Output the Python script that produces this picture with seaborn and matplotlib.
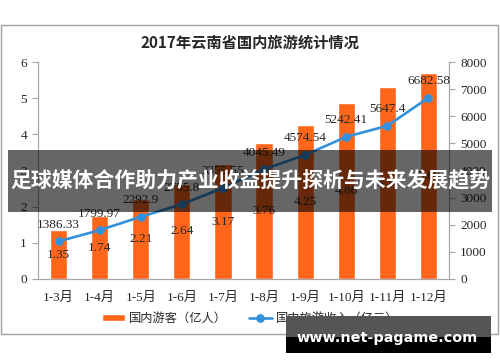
import numpy as np
import pandas as pd
import matplotlib
matplotlib.use('Agg')
import matplotlib.pyplot as plt
import seaborn as sns
from matplotlib.patches import Rectangle

months = ['1-3月', '1-4月', '1-5月', '1-6月', '1-7月', '1-8月', '1-9月', '1-10月', '1-11月', '1-12月']
tourists = [1.35, 1.74, 2.21, 2.64, 3.17, 3.76, 4.25, 4.86, 5.30, 5.69]
income = [1386.33, 1799.97, 2292.9, 2755.8, 3355.55, 4045.49, 4574.54, 5242.41, 5647.4, 6682.58]
income_labels = ['1386.33', '1799.97', '2292.9', '2755.8', '3355.55', '4045.49', '4574.54', '5242.41', '5647.4', '6682.58']
left_ticks = [0, 1, 2, 3, 4, 5, 6]
right_ticks = [0, 1000, 2000, 3000, 4000, 5000, 6000, 7000, 8000]

title = '2017年云南省国内旅游统计情况'
banner = '足球媒体合作助力产业收益提升探析与未来发展趋势'
site = 'www.net-pagame.com'

sns.set_style('white')
plt.rcParams['font.family'] = ['Liberation Serif', 'Noto Sans CJK SC', 'DejaVu Sans']

orange = '#FF661A'
blue = '#3391DC'
grey = '#A6A6A6'

df = pd.DataFrame({'month': months, 'tourists': tourists, 'income': income})
df['pos'] = np.arange(len(months))

fig = plt.figure(figsize=(5, 3.62), dpi=100)
ax = fig.add_axes([0.076, 0.2293, 0.822, 0.5994])

sns.barplot(data=df, x='month', y='tourists', color=orange, width=0.42,
            saturation=1, ax=ax, label='国内游客（亿人）')
if ax.get_legend() is not None:
    ax.get_legend().remove()
ax.set_xlim(-0.5, len(months) - 0.5)
ax.set_ylim(0, 6)
ax.set_yticks(left_ticks)
ax.set_xlabel('')
ax.set_ylabel('')

ax2 = ax.twinx()
sns.lineplot(data=df, x='pos', y='income', color=blue, linewidth=1.9, marker='o',
             markersize=5.5, markeredgecolor=blue, ax=ax2, label='国内旅游收入（亿元）',
             legend=False)
if ax2.get_legend() is not None:
    ax2.get_legend().remove()
ax2.set_ylim(0, 8000)
ax2.set_yticks(right_ticks)
ax2.set_ylabel('')
ax2.set_xlim(-0.5, len(months) - 0.5)

# category ticks: labels centred, marks at boundaries
ax.set_xticks(df['pos'])
ax.set_xticklabels(months)
ax.set_xticks(np.arange(-0.5, len(months)), minor=True)
ax.tick_params(axis='x', which='major', length=0, pad=9, labelsize=9.5)
ax.tick_params(axis='x', which='minor', length=4, color=grey, direction='out')
ax.tick_params(axis='y', length=4, color=grey, direction='out', left=True, pad=4, labelsize=9.5)
ax2.tick_params(axis='y', length=4, color=grey, direction='out', right=True, pad=4, labelsize=9.5)

for a in (ax, ax2):
    for s in a.spines.values():
        s.set_color(grey)
        s.set_linewidth(0.8)
    a.spines['top'].set_visible(False)

for p, v in zip(df['pos'], tourists):
    ax.text(p, v / 2, f'{v:.2f}', ha='center', va='center', fontsize=9.5)
for p, v, t in zip(df['pos'], income, income_labels):
    ax2.annotate(t, (p, v), xytext=(0, 12), textcoords='offset points',
                 ha='center', va='center', fontsize=9.5)

fig.text(0.5, 0.881, title, ha='center', va='center', fontsize=11,
         fontweight='bold', family=['Noto Sans CJK SC', 'DejaVu Sans'])

h1 = [c for c in ax.containers][:1]
h2, l2 = ax2.get_legend_handles_labels()
fig.legend(h1 + h2, ['国内游客（亿人）'] + l2, loc='center', bbox_to_anchor=(0.5, 0.1215), ncol=2,
           frameon=False, handlelength=1.9, handleheight=0.5,
           handletextpad=0.3, columnspacing=1.8,
           prop={'family': ['Noto Sans CJK SC', 'DejaVu Sans'], 'size': 8.8})

# outer frame
fig.add_artist(Rectangle((0.002, 0.0773), 0.994, 0.8536, transform=fig.transFigure,
                         fill=False, edgecolor='#A0A0A0', linewidth=1, zorder=5))

# overlay banner
fig.add_artist(Rectangle((0.016, 0.4144), 0.968, 0.1713, transform=fig.transFigure,
                         facecolor='black', alpha=0.6, edgecolor='none', zorder=10))
fig.text(0.5, 0.5, banner, ha='center', va='center', color='white', fontsize=15,
         fontweight='bold', family=['Noto Sans CJK SC', 'DejaVu Sans'], zorder=11)

# site box
fig.add_artist(Rectangle((0.572, 0.069), 0.41, 0.058, transform=fig.transFigure,
                         facecolor='#555555', edgecolor='none', zorder=10))
fig.add_artist(Rectangle((0.572, 0.0249), 0.41, 0.0442, transform=fig.transFigure,
                         facecolor='black', edgecolor='none', zorder=10))
fig.text(0.775, 0.066, site, ha='center', va='center', color='white', fontsize=10.4,
         fontweight='bold', family='DejaVu Sans', zorder=11)

fig.savefig('out.png', dpi=100)
